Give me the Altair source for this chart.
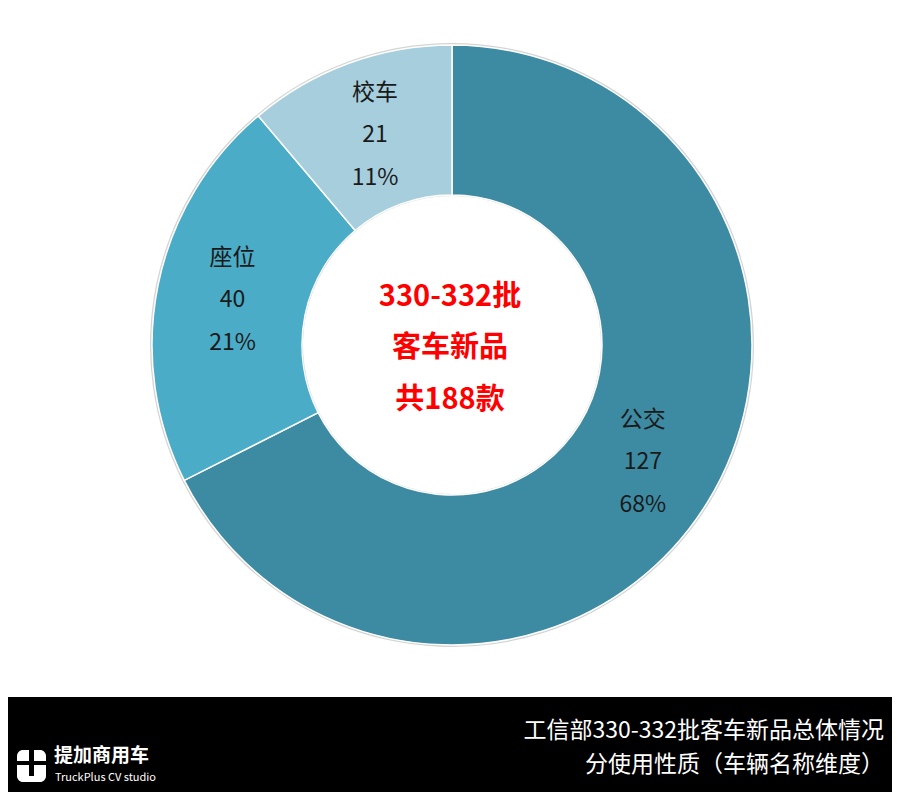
import altair as alt
import pandas as pd

categories = ["公交", "座位", "校车"]
counts = [127, 40, 21]
percents = ["68%", "21%", "11%"]
colors = ["#3D8BA3", "#4AACC6", "#A7CEDD"]
center_lines = ["330-332批", "客车新品", "共188款"]
footer_lines = ["工信部330-332批客车新品总体情况", "分使用性质（车辆名称维度）"]
brand_name = "提加商用车"
brand_sub = "TruckPlus CV studio"

FONT = "Noto Sans CJK SC"
W, H = 884, 784
CX, CY = 444, 337

df = pd.DataFrame({
    "cat": categories,
    "count": counts,
    "count_s": [str(c) for c in counts],
    "pct": percents,
    "order": list(range(len(categories))),
})

base = alt.Chart(df).encode(
    theta=alt.Theta("count:Q", stack=True),
    order=alt.Order("order:Q"),
    x=alt.value(CX),
    y=alt.value(CY),
)

shadow = base.mark_arc(outerRadius=302, innerRadius=149, color="#D4D4D4")

arc = base.mark_arc(outerRadius=300, innerRadius=150, stroke="white", strokeWidth=1.5).encode(
    color=alt.Color("cat:N", scale=alt.Scale(domain=categories, range=colors), legend=None)
)


def label(field, dy):
    return base.mark_text(radius=224, fontSize=23, font=FONT, color="#1A1A1A", dy=dy).encode(
        text=alt.Text(f"{field}:N")
    )


lab1 = label("cat", -42)
lab2 = label("count_s", 0)
lab3 = label("pct", 43)


def one_text(t, x, y, **kw):
    return alt.Chart(pd.DataFrame({"t": [t]})).mark_text(font=FONT, **kw).encode(
        text="t:N", x=alt.value(x), y=alt.value(y)
    )


center_ys = [289, 340, 392]
center_layers = [
    one_text(t, CX - 2, yy, fontSize=29, fontWeight="bold", color="#FF0000", baseline="middle")
    for t, yy in zip(center_lines, center_ys)
]

footer_bg = alt.Chart(pd.DataFrame({"a": [0]})).mark_rect(color="black").encode(
    x=alt.value(-10), x2=alt.value(W + 10), y=alt.value(689), y2=alt.value(H + 10)
)

footer_ys = [723, 757]
footer_layers = [
    one_text(t, 876, yy, fontSize=23, color="white", align="right", baseline="middle")
    for t, yy in zip(footer_lines, footer_ys)
]

# logo icon
icon = alt.Chart(pd.DataFrame({"a": [0]})).mark_rect(color="white", cornerRadius=6).encode(
    x=alt.value(9), x2=alt.value(38), y=alt.value(742), y2=alt.value(774)
)
icon_v = alt.Chart(pd.DataFrame({"a": [0]})).mark_rect(color="black").encode(
    x=alt.value(21), x2=alt.value(26), y=alt.value(742), y2=alt.value(768)
)
icon_h = alt.Chart(pd.DataFrame({"a": [0]})).mark_rect(color="black").encode(
    x=alt.value(9), x2=alt.value(38), y=alt.value(753), y2=alt.value(757)
)
brand1 = one_text(brand_name, 46, 748, fontSize=19, fontWeight="bold", color="white",
                  align="left", baseline="middle")
brand2 = one_text(brand_sub, 47, 770, fontSize=11, color="white", align="left", baseline="middle")

chart = alt.layer(
    shadow, arc, lab1, lab2, lab3, *center_layers,
    footer_bg, *footer_layers, icon, icon_v, icon_h, brand1, brand2,
).properties(
    width=W, height=H, padding=0,
    autosize=alt.AutoSizeParams(type="none"),
).configure_view(stroke=None)

chart.save("out.html", embed_options={"renderer": "svg", "actions": False})
